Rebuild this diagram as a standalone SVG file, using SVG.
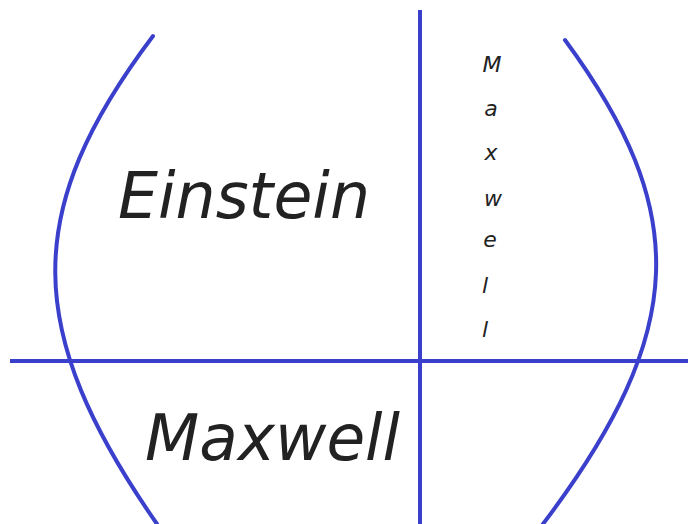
<svg xmlns="http://www.w3.org/2000/svg" width="688" height="524" viewBox="0 0 688 524">
<style>
.ln{fill:none;stroke:#3b40cc;stroke-width:4;stroke-linecap:round}
.t{font-family:"DejaVu Sans","Liberation Sans",sans-serif;font-style:italic;fill:#222}
.v{font-family:"DejaVu Sans","Liberation Sans",sans-serif;font-style:italic;fill:#222;font-size:22px;text-anchor:middle}
</style>
<rect width="688" height="524" fill="#fff"/>
<g id="lines">
<path class="ln" d="M420,10 V524" style="stroke-linecap:butt"/>
<path class="ln" d="M10,361 H688" style="stroke-linecap:butt"/>
<path class="ln" d="M153,36 C22,210 22,330 157,524"/>
<path class="ln" d="M565,40 C690,210 690,330 543,524"/>
</g>
<g id="einstein"><text class="t" x="118" y="218" font-size="64" textLength="252" lengthAdjust="spacingAndGlyphs">Einstein</text></g>
<g id="maxwell"><text class="t" x="145" y="460" font-size="64" textLength="255" lengthAdjust="spacingAndGlyphs">Maxwell</text></g>
<g id="maxwell-vertical">
<text class="v" x="492" y="72">M</text>
<text class="v" x="491" y="116">a</text>
<text class="v" x="491" y="160">x</text>
<text class="v" x="493" y="206">w</text>
<text class="v" x="490" y="247">e</text>
<text class="v" x="485" y="293">l</text>
<text class="v" x="485" y="337">l</text>
</g>
</svg>
